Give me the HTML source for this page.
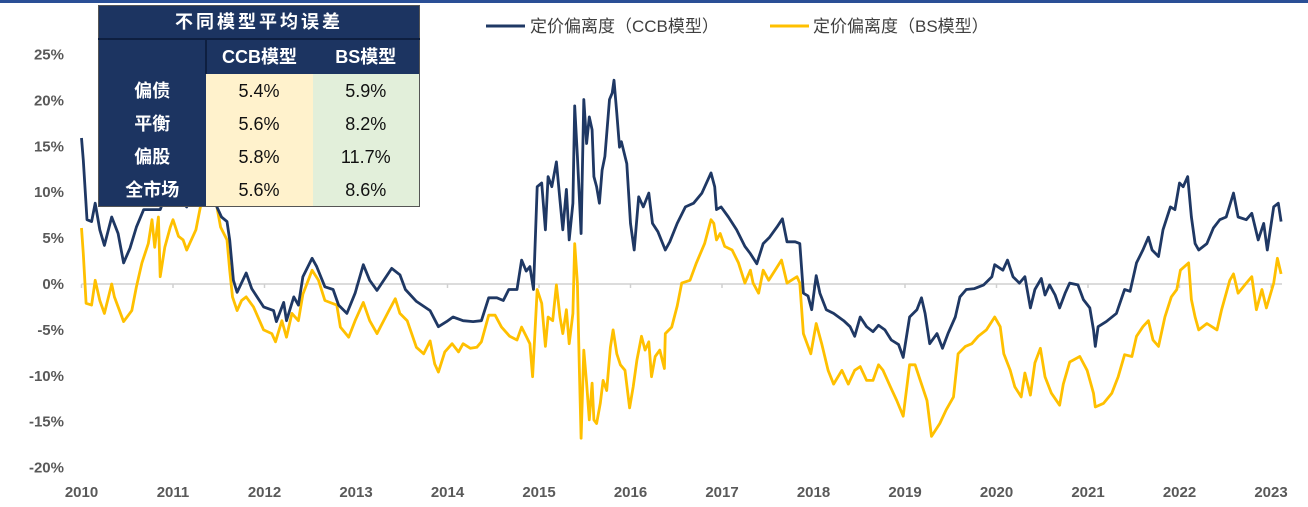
<!DOCTYPE html>
<html><head><meta charset="utf-8"><style>
body{margin:0;background:#fff;width:1308px;height:507px;overflow:hidden;position:relative;font-family:"Liberation Sans","Noto Sans CJK SC",sans-serif}
#topbar{position:absolute;left:0;top:0;width:1308px;height:3px;background:#2a4f96}
svg{position:absolute;left:0;top:0}
table{position:absolute;left:98px;top:5px;border-collapse:collapse;width:322px;table-layout:fixed;font-family:"Liberation Sans","Noto Sans CJK SC",sans-serif;border:1px solid #555}
td{padding:0;text-align:center;vertical-align:middle;font-size:18px;border:0;line-height:1}
.h{background:#1c3461;color:#fff;font-weight:bold}
.c{background:#fff2cc;color:#111}
.b{background:#e2efda;color:#111}
</style></head><body>
<div id="topbar"></div>
<svg id="chart" width="1308" height="507"></svg>
<table>
<tr style="height:33px"><td colspan="3" class="h" style="border-bottom:2px solid #0e1f40;letter-spacing:3px">不同模型平均误差</td></tr>
<tr style="height:35px"><td class="h" style="width:106px"></td><td class="h" style="width:108px;border-left:2px solid #0e1f40">CCB模型</td><td class="h" style="width:108px">BS模型</td></tr>
<tr style="height:34px"><td class="h">偏债</td><td class="c">5.4%</td><td class="b">5.9%</td></tr>
<tr style="height:33px"><td class="h">平衡</td><td class="c">5.6%</td><td class="b">8.2%</td></tr>
<tr style="height:33px"><td class="h">偏股</td><td class="c">5.8%</td><td class="b">11.7%</td></tr>
<tr style="height:33px"><td class="h">全市场</td><td class="c">5.6%</td><td class="b">8.6%</td></tr>
</table>
<script>
const yTicks=[25,20,15,10,5,0,-5,-10,-15,-20];
const xYears=[2010,2011,2012,2013,2014,2015,2016,2017,2018,2019,2020,2021,2022,2023];
const ccbT=[2010.00,2010.02,2010.06,2010.11,2010.15,2010.20,2010.25,2010.33,2010.40,2010.46,2010.53,2010.60,2010.68,2010.86,2010.95,2011.05,2011.15,2011.25,2011.35,2011.48,2011.53,2011.59,2011.62,2011.66,2011.70,2011.80,2011.86,2011.99,2012.10,2012.13,2012.21,2012.24,2012.32,2012.37,2012.42,2012.52,2012.57,2012.66,2012.75,2012.81,2012.90,2012.99,2013.08,2013.15,2013.23,2013.39,2013.48,2013.54,2013.66,2013.81,2013.90,2013.99,2014.06,2014.17,2014.28,2014.37,2014.45,2014.54,2014.61,2014.67,2014.76,2014.81,2014.86,2014.90,2014.94,2014.98,2015.03,2015.07,2015.10,2015.14,2015.19,2015.23,2015.26,2015.30,2015.33,2015.37,2015.39,2015.42,2015.46,2015.49,2015.52,2015.55,2015.58,2015.60,2015.63,2015.66,2015.69,2015.72,2015.77,2015.80,2015.82,2015.85,2015.88,2015.90,2015.96,2016.00,2016.04,2016.09,2016.14,2016.20,2016.24,2016.30,2016.38,2016.43,2016.51,2016.60,2016.69,2016.78,2016.88,2016.92,2016.94,2016.99,2017.07,2017.16,2017.25,2017.31,2017.38,2017.45,2017.52,2017.60,2017.66,2017.71,2017.80,2017.85,2017.89,2017.94,2017.98,2018.03,2018.07,2018.14,2018.22,2018.33,2018.40,2018.45,2018.51,2018.58,2018.65,2018.71,2018.78,2018.85,2018.93,2018.98,2019.05,2019.13,2019.18,2019.22,2019.27,2019.35,2019.41,2019.47,2019.55,2019.60,2019.67,2019.76,2019.86,2019.95,2019.98,2020.07,2020.12,2020.18,2020.25,2020.31,2020.37,2020.42,2020.49,2020.53,2020.58,2020.64,2020.69,2020.75,2020.80,2020.89,2020.95,2021.02,2021.06,2021.08,2021.11,2021.20,2021.31,2021.40,2021.46,2021.53,2021.60,2021.66,2021.70,2021.77,2021.82,2021.90,2021.95,2022.00,2022.04,2022.09,2022.13,2022.17,2022.21,2022.30,2022.37,2022.44,2022.51,2022.59,2022.64,2022.73,2022.79,2022.86,2022.92,2022.96,2023.03,2023.08,2023.11];
const ccbV=[15.9,13.5,7.0,6.8,8.8,5.9,4.2,7.3,5.5,2.3,3.9,6.2,8.1,8.1,10.5,9.5,8.4,11,12,8.4,7.3,6.8,4.8,0.4,-0.9,1.2,-0.5,-2.5,-2.9,-4.1,-2.0,-4.0,-1.4,-2.3,0.8,2.8,1.9,-0.3,-0.6,-2.3,-3.2,-1.0,2.1,0.4,-0.7,1.7,1.0,-0.6,-1.9,-2.9,-4.65,-4.1,-3.6,-4.0,-4.1,-4.0,-1.5,-1.5,-1.8,-0.6,-0.6,2.6,1.4,1.9,-0.6,10.6,11.0,5.9,11.7,10.6,13.3,9.1,5.9,10.3,4.8,8.8,19.4,13.9,5.5,20.1,15.3,18.2,16.8,11.7,10.6,8.8,12.4,13.9,20.1,20.8,22.2,18.6,14.9,15.5,13.1,6.6,3.7,9.5,8.4,9.9,6.6,5.7,3.7,4.6,6.6,8.4,8.8,9.9,12.1,10.6,8.1,8.4,7.3,5.9,4.1,3.3,2.2,4.4,5.1,6.2,7.1,4.6,4.6,4.4,-1.0,-1.3,-2.8,0.9,-1.0,-2.8,-3.2,-4.0,-4.65,-5.7,-3.6,-4.65,-5.2,-4.5,-5.0,-6.1,-6.6,-8.0,-3.6,-2.8,-1.5,-3.2,-6.5,-5.4,-7.0,-5.4,-3.6,-1.4,-0.6,-0.5,-0.1,0.8,2.1,1.5,2.6,0.8,0.1,0.8,-2.6,-0.6,0.6,-1.2,-0.1,-1.2,-2.6,-1.0,0.1,-0.1,-1.7,-2.6,-5.0,-6.8,-4.65,-4.1,-3.2,-0.6,-0.8,2.3,3.7,5.1,3.7,3.0,5.9,8.4,8.1,11.0,10.6,11.7,7.3,4.4,3.7,4.4,6.1,7.0,7.3,9.9,7.3,7.0,7.7,4.8,6.6,3.7,8.4,8.8,6.8];
const bsT=[2010.00,2010.02,2010.05,2010.11,2010.15,2010.20,2010.25,2010.33,2010.36,2010.46,2010.55,2010.60,2010.66,2010.73,2010.77,2010.80,2010.84,2010.86,2010.91,2010.97,2011.00,2011.06,2011.11,2011.15,2011.20,2011.25,2011.30,2011.38,2011.45,2011.48,2011.52,2011.59,2011.62,2011.65,2011.70,2011.75,2011.80,2011.88,2011.99,2012.08,2012.12,2012.19,2012.24,2012.30,2012.37,2012.42,2012.52,2012.59,2012.66,2012.79,2012.83,2012.92,2012.99,2013.08,2013.15,2013.23,2013.36,2013.43,2013.48,2013.56,2013.66,2013.74,2013.81,2013.86,2013.90,2013.97,2014.05,2014.12,2014.17,2014.25,2014.32,2014.37,2014.45,2014.52,2014.59,2014.68,2014.76,2014.81,2014.86,2014.90,2014.93,2014.98,2015.03,2015.07,2015.10,2015.15,2015.19,2015.23,2015.26,2015.30,2015.33,2015.37,2015.39,2015.42,2015.44,2015.46,2015.49,2015.52,2015.55,2015.58,2015.60,2015.63,2015.67,2015.70,2015.74,2015.78,2015.81,2015.85,2015.89,2015.94,2015.99,2016.03,2016.07,2016.12,2016.16,2016.20,2016.23,2016.27,2016.32,2016.37,2016.38,2016.45,2016.51,2016.56,2016.65,2016.72,2016.81,2016.88,2016.91,2016.94,2016.98,2017.03,2017.11,2017.18,2017.25,2017.31,2017.34,2017.40,2017.45,2017.51,2017.58,2017.65,2017.71,2017.82,2017.85,2017.89,2017.97,2018.03,2018.09,2018.16,2018.22,2018.31,2018.38,2018.45,2018.51,2018.58,2018.65,2018.71,2018.76,2018.84,2018.91,2018.98,2019.05,2019.11,2019.18,2019.24,2019.29,2019.38,2019.45,2019.53,2019.58,2019.66,2019.73,2019.80,2019.89,2019.98,2020.04,2020.08,2020.15,2020.20,2020.27,2020.31,2020.37,2020.42,2020.48,2020.53,2020.60,2020.69,2020.73,2020.80,2020.91,2020.99,2021.06,2021.08,2021.17,2021.26,2021.33,2021.40,2021.48,2021.53,2021.60,2021.66,2021.71,2021.77,2021.84,2021.91,2021.97,2022.01,2022.10,2022.13,2022.17,2022.21,2022.30,2022.41,2022.46,2022.55,2022.59,2022.64,2022.73,2022.79,2022.84,2022.90,2022.95,2023.03,2023.07,2023.11];
const bsV=[6.1,3.3,-2.1,-2.3,0.4,-1.8,-3.2,0.0,-1.4,-4.1,-2.9,-0.3,2.3,4.4,7.0,4.0,7.3,0.8,4.0,6.2,7.0,5.2,4.8,3.7,4.8,5.9,8.4,11,10,8.4,6.2,4.8,1.5,-1.4,-2.9,-1.8,-1.4,-2.5,-5.0,-5.4,-6.3,-4.0,-5.8,-3.2,-4.0,-1.1,1.5,0.4,-1.8,-2.3,-4.7,-5.8,-4.0,-2.0,-4.0,-5.4,-2.9,-1.6,-3.2,-4.0,-6.9,-7.6,-6.2,-8.7,-9.6,-7.4,-6.5,-7.4,-6.5,-7.0,-6.9,-6.3,-3.4,-3.4,-4.7,-5.7,-6.1,-4.7,-5.7,-6.5,-10.1,-0.6,-2.1,-6.8,-3.6,-4.0,-0.1,-3.6,-5.4,-2.8,-6.5,-3.2,4.4,0.1,-9.0,-16.8,-7.2,-10.8,-14.8,-10.8,-14.8,-15.2,-13.0,-10.5,-11.6,-6.9,-5.0,-7.6,-8.8,-9.4,-13.5,-11.2,-8.3,-5.7,-7.2,-6.3,-10.1,-7.9,-7.2,-9.2,-5.4,-4.7,-2.4,0.1,0.4,2.3,4.4,7.0,6.6,4.8,5.5,4.1,3.7,2.3,0.1,1.5,0.1,-1.0,1.5,0.4,1.5,2.6,0.1,0.8,0.1,-5.4,-7.6,-4.3,-6.5,-9.4,-10.9,-9.4,-10.9,-9.4,-9.0,-10.5,-10.5,-8.8,-9.4,-11.2,-12.7,-14.4,-8.8,-8.8,-10.9,-12.7,-16.6,-15.2,-13.7,-12.3,-7.6,-6.8,-6.5,-5.7,-5.0,-3.6,-4.65,-7.6,-9.4,-11.2,-12.3,-9.7,-12.1,-8.6,-7.0,-10.1,-11.9,-13.2,-10.9,-8.5,-7.9,-9.4,-11.9,-13.4,-13.0,-11.9,-10.1,-7.7,-7.9,-5.7,-4.65,-4.0,-6.1,-6.8,-3.6,-1.4,-0.6,1.5,2.3,-1.7,-3.6,-5.0,-4.3,-5.0,-2.8,0.4,1.1,-1.0,0.1,0.8,-2.8,-0.6,-2.6,0.1,2.8,1.1];

const NS='http://www.w3.org/2000/svg';
const svg=document.getElementById('chart');
const X0=81.5, YW=91.5, Y0=284, PP=9.18;
function xs(t){return X0+(t-2010)*YW;}
function ys(v){return Y0-v*PP;}
function mk(tag,attrs){const e=document.createElementNS(NS,tag);for(const k in attrs)e.setAttribute(k,attrs[k]);svg.appendChild(e);return e;}

yTicks.forEach(v=>{
  const t=mk('text',{x:64,y:ys(v)+5,'text-anchor':'end','font-size':15,'font-weight':'bold',fill:'#595959','font-family':'Liberation Sans, sans-serif'});
  t.textContent=v+'%';
  
  
});
const zl=mk('line',{x1:xs(2010),x2:xs(2023.12),y1:ys(0),y2:ys(0),stroke:'#d0d0d0','stroke-width':1.5});


xYears.forEach(y=>{
  const tk=mk('line',{x1:xs(y),x2:xs(y),y1:ys(0),y2:ys(0)+4,stroke:'#d0d0d0','stroke-width':1.5});
  
  
  const t=mk('text',{x:xs(y),y:497,'text-anchor':'middle','font-size':15,'font-weight':'bold',fill:'#595959','font-family':'Liberation Sans, sans-serif'});
  t.textContent=y;
  
  
});
function line(T,V,color,name){
  let d='';T.forEach((t,i)=>{d+=(i?'L':'M')+xs(t).toFixed(1)+' '+ys(V[i]).toFixed(1);});
  const p=mk('path',{d:d,fill:'none',stroke:color,'stroke-width':2.8,'stroke-linejoin':'round'});
  
  
}
line(bsT,bsV,'#ffc000','bs-series-line');
line(ccbT,ccbV,'#1f3864','ccb-series-line');

const l1=mk('line',{x1:486,x2:525,y1:26,y2:26,stroke:'#1f3864','stroke-width':3});


const t1=mk('text',{x:530,y:32,'font-size':17,fill:'#404040','font-family':'Liberation Sans, Noto Sans CJK SC, sans-serif'});
t1.textContent='定价偏离度（CCB模型）';


const l2=mk('line',{x1:770,x2:809,y1:26,y2:26,stroke:'#ffc000','stroke-width':3});


const t2=mk('text',{x:813,y:32,'font-size':17,fill:'#404040','font-family':'Liberation Sans, Noto Sans CJK SC, sans-serif'});
t2.textContent='定价偏离度（BS模型）';


</script>
</body></html>
